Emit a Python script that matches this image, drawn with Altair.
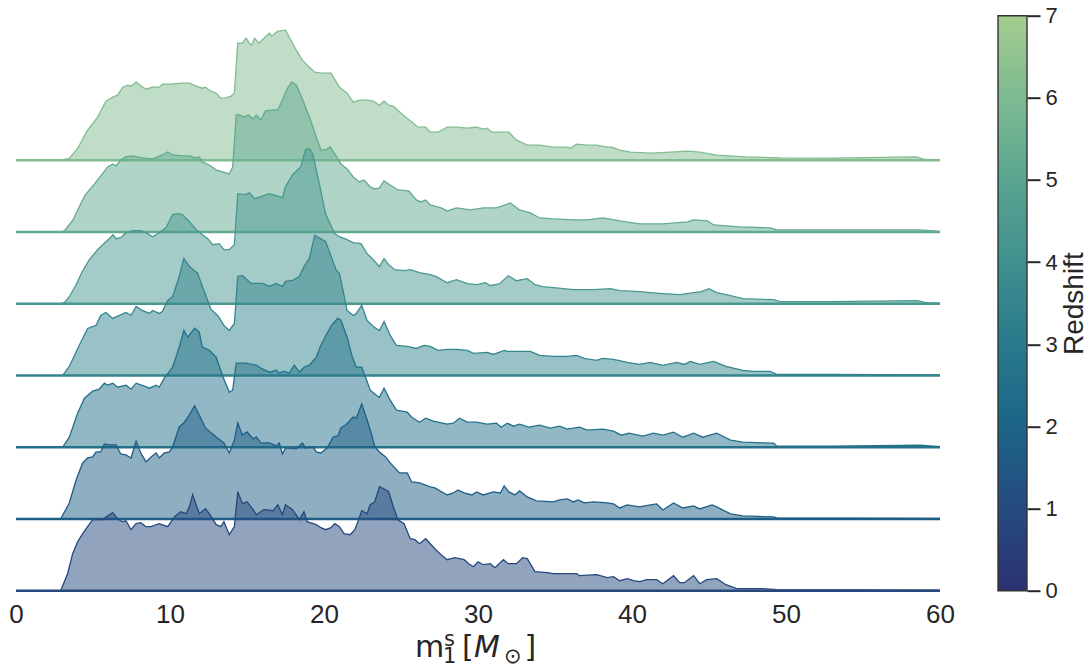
import altair as alt
import pandas as pd

# ---- primary-mass distributions, one per redshift bin (relative density) ----
MASS_R0 = [2.9, 2.92, 3.35, 3.68, 4.0, 4.33, 4.65, 4.98, 5.63, 5.95, 6.28, 6.6, 6.93, 7.14, 7.47, 7.8, 8.1, 8.44, 8.77, 9.3,
           9.85, 10.3, 10.7, 11.04, 11.26, 11.47, 11.9, 12.3, 12.55, 13.0, 13.3, 13.5, 13.85, 14.18, 14.4, 14.7, 15.0, 15.4,
           15.6, 16.1, 16.7, 17.0, 17.3, 17.5, 17.96, 18.4, 18.7, 18.9, 19.5, 19.8, 20.1, 20.45, 20.7, 21.0, 21.3, 21.7, 22.0,
           22.2, 22.45, 22.8, 23.0, 23.3, 23.6, 24.0, 24.2, 24.5, 24.8, 25.2, 25.6, 25.9, 26.2, 26.6, 26.9, 27.2, 27.6, 28.0,
           28.5, 29.1, 29.4, 29.7, 30.0, 30.35, 30.8, 31.1, 31.65, 31.97, 32.5, 32.9, 33.2, 33.7, 34.5, 34.9, 35.8, 36.4, 36.6,
           37.7, 38.4, 38.8, 39.2, 39.7, 40.1, 40.5, 40.95, 41.6, 42.0, 42.7, 43.1, 43.4, 44.0, 44.4, 44.85, 45.5, 46.1, 46.8,
           48.5, 49.4, 60.0]
DENS_R0 = [0, 0.7, 17, 37, 49, 57, 64, 71, 71, 75, 78, 72, 69, 70, 61, 67, 68, 64, 64, 67,
           64, 74, 79, 77, 84, 96, 77, 82, 77, 66, 64, 69, 56, 64, 99, 87, 89, 81,
           76, 81, 80, 86, 76, 86, 81, 71, 79, 69, 66, 63, 61, 63, 67, 64, 57, 56, 61,
           69, 80, 77, 86, 89, 104, 101, 99, 84, 71, 67, 52, 51, 47, 52, 47, 42, 36, 31,
           33, 31, 27, 24, 29, 26, 27, 23, 31, 27, 27, 33, 32, 19, 18, 17, 17, 17, 15,
           16, 13, 14, 10, 12, 10, 9, 11, 11, 7, 15, 8, 8, 15, 7, 11, 12, 6, 2,
           2, 1, 0.5]

MASS_R1 = [2.9, 3.46, 3.9, 4.33, 4.65, 4.98, 5.2, 5.5, 5.74, 6.06, 6.5, 6.8, 7.14, 7.47, 7.8, 8.1, 8.44, 8.77, 9.1, 9.3,
           9.63, 9.96, 10.17, 10.6, 10.9, 11.26, 11.6, 11.9, 12.3, 13.0, 13.5, 13.85, 14.18, 14.4, 14.7, 15.0, 15.4, 15.6,
           15.9, 16.45, 16.9, 17.1, 17.3, 17.5, 18.2, 18.6, 18.8, 19.3, 19.5, 19.8, 20.2, 20.6, 20.9, 21.1, 21.4, 21.6, 21.9,
           22.1, 22.45, 22.8, 23.1, 23.3, 23.6, 24.0, 24.3, 24.9, 25.4, 25.7, 26.2, 26.9, 27.2, 28.0, 28.4, 28.7, 29.1, 29.6,
           29.9, 30.35, 31.0, 31.45, 31.7, 32.0, 32.4, 32.7, 33.2, 33.8, 34.9, 35.3, 35.8, 36.2, 36.5, 36.9, 37.5, 38.4, 38.8,
           39.2, 39.7, 40.5, 41.2, 41.6, 42.0, 42.7, 43.3, 44.0, 44.4, 45.2, 45.5, 46.4, 47.2, 49.2, 49.4, 60.0]
DENS_R1 = [0, 16, 39, 56, 61, 62, 67, 67, 75, 74, 74, 65, 64, 61, 78, 66, 57, 62, 66, 61,
           66, 67, 72, 92, 96, 104, 113, 104, 91, 82, 76, 66, 79, 96, 84, 87, 80, 82,
           76, 76, 73, 76, 65, 71, 70, 76, 71, 72, 67, 66, 71, 82, 83, 91, 94, 97, 102,
           101, 115, 99, 84, 72, 67, 62, 56, 46, 46, 37, 36, 32, 31, 24, 26, 29, 26, 24,
           27, 24, 27, 26, 33, 27, 24, 28, 22, 18, 17, 19, 20, 17, 19, 16, 17, 16, 15,
           11, 14, 12, 14, 15, 9, 16, 11, 13, 10, 14, 12, 5, 3, 2, 1, 0.5]

MASS_R2 = [2.9, 3.03, 3.46, 4.0, 4.44, 4.98, 5.4, 5.74, 5.95, 6.28, 6.6, 7.14, 7.47, 7.8, 8.33, 8.66, 9.1, 9.3, 9.63,
           10.17, 10.6, 10.9, 11.15, 11.6, 11.9, 12.1, 12.55, 13.0, 13.4, 13.85, 14.07, 14.3, 14.9, 15.6, 15.9, 16.45, 16.9,
           17.1, 17.4, 17.75, 18.07, 18.4, 18.7, 19.05, 19.5, 19.74, 20.2, 20.5, 20.9, 21.1, 21.5, 21.8, 22.1, 22.45, 22.7,
           23.0, 23.4, 23.6, 23.9, 24.3, 24.7, 25.4, 25.7, 26.2, 26.6, 27.1, 28.0, 28.4, 28.8, 29.3, 29.9, 30.6, 31.2, 31.5,
           31.9, 32.3, 32.7, 33.3, 34.0, 34.7, 35.3, 35.8, 36.6, 37.1, 38.1, 38.8, 39.3, 39.8, 40.7, 41.4, 42.0, 42.7, 43.3,
           44.0, 44.6, 45.5, 46.4, 47.2, 49.2, 49.4, 52.9, 58.7, 60.0]
DENS_R2 = [0, 0, 10, 34, 49, 56, 58, 64, 62, 64, 60, 62, 58, 64, 61, 59, 62, 60, 69,
           80, 100, 117, 110, 119, 115, 100, 97, 90, 72, 55, 57, 84, 84, 82, 79, 75, 77,
           74, 76, 74, 82, 75, 80, 82, 90, 100, 114, 122, 129, 127, 110, 92, 80, 80, 70,
           57, 52, 50, 59, 47, 37, 35, 30, 25, 29, 26, 23, 24, 29, 25, 25, 23, 24, 20,
           24, 21, 23, 20, 22, 19, 21, 18, 20, 17, 18, 16, 12, 14, 11, 14, 12, 15, 10,
           14, 10, 14, 7, 5, 4, 1, 1, 2, 0.5]

MASS_R3 = [2.9, 3.03, 3.46, 4.1, 4.65, 5.2, 5.5, 5.84, 6.28, 7.14, 7.47, 7.8, 8.2, 8.66, 8.87, 9.3, 9.5, 9.85, 10.17,
           10.6, 10.9, 11.26, 11.8, 12.1, 12.45, 12.66, 13.1, 13.5, 13.85, 14.18, 14.4, 14.7, 15.26, 16.0, 16.45, 16.9, 17.3,
           17.5, 17.96, 18.4, 18.7, 19.05, 19.4, 20.1, 20.8, 21.0, 21.5, 21.9, 22.1, 22.45, 22.8, 23.2, 23.6, 23.9, 24.3,
           24.7, 25.4, 26.0, 26.5, 26.9, 27.4, 28.0, 28.6, 29.3, 29.7, 30.6, 31.0, 31.7, 31.9, 32.7, 33.4, 34.0, 34.9, 35.8,
           36.4, 36.9, 37.7, 38.1, 38.8, 39.7, 40.5, 41.2, 42.0, 42.9, 43.4, 43.8, 44.4, 45.3, 46.1, 47.2, 47.9, 48.97, 49.4,
           52.9, 60.0]
DENS_R3 = [0, 0, 9, 30, 47, 50, 60, 63, 57, 63, 60, 69, 65, 62, 65, 62, 64, 75, 79,
           99, 117, 109, 102, 89, 75, 66, 60, 50, 45, 52, 99, 100, 92, 92, 89, 92, 89,
           94, 95, 99, 109, 117, 140, 134, 105, 102, 65, 60, 62, 70, 55, 49, 45, 54, 40,
           30, 29, 27, 30, 29, 25, 26, 26, 25, 22, 23, 21, 25, 24, 24, 24, 20, 19, 19,
           20, 17, 15, 17, 16, 13, 11, 13, 10, 13, 11, 14, 11, 14, 9, 5, 4, 4, 1,
           1, 0.5]

MASS_R4 = [2.9, 3.14, 3.46, 3.9, 4.3, 4.76, 5.3, 5.7, 6.06, 6.3, 6.5, 6.8, 7.14, 7.6, 8.1, 8.55, 8.87, 9.3, 9.74, 10.17,
           10.5, 10.8, 11.26, 11.7, 12.1, 12.45, 12.77, 13.2, 13.5, 13.85, 14.18, 14.4, 14.9, 15.15, 15.5, 15.9, 16.45, 16.9,
           17.3, 17.5, 17.96, 18.5, 18.8, 19.05, 19.26, 19.7, 20.1, 20.4, 20.7, 21.0, 21.5, 21.9, 22.4, 22.8, 23.2, 23.6,
           23.9, 24.2, 24.6, 25.2, 25.6, 26.2, 26.9, 27.3, 28.0, 28.6, 29.3, 29.9, 30.5, 30.8, 31.4, 31.97, 32.5, 33.2, 33.7,
           34.2, 34.9, 36.2, 37.5, 38.6, 39.2, 40.5, 41.2, 42.0, 43.1, 44.0, 44.5, 45.0, 45.5, 46.4, 47.2, 49.2, 49.6, 52.9,
           58.5, 59.1, 60.0]
DENS_R4 = [0, 1, 7, 19, 32, 44, 54, 60, 65, 69, 65, 66, 71, 73, 73, 70, 67, 71, 76, 89,
           90, 89, 82, 74, 69, 65, 59, 60, 54, 54, 59, 110, 109, 111, 105, 107, 110, 108,
           106, 117, 129, 137, 154, 155, 150, 120, 90, 80, 70, 67, 64, 61, 60, 50, 44, 37,
           45, 39, 34, 33, 34, 31, 29, 27, 21, 24, 20, 19, 21, 18, 20, 28, 23, 25, 19,
           17, 16, 14, 14, 15, 13, 12, 11, 10, 9, 11, 12, 15, 11, 8, 5, 4, 2, 2,
           3, 1, 0.5]

MASS_R5 = [2.9, 3.14, 3.7, 4.1, 4.5, 5.1, 5.6, 5.95, 6.28, 6.5, 6.8, 7.1, 7.6, 8.2, 8.9, 9.5, 9.85, 10.2, 10.8, 11.26,
           11.6, 11.9, 12.1, 12.55, 13.0, 13.4, 13.85, 14.07, 14.3, 14.5, 14.8, 15.1, 15.4, 15.6, 15.9, 16.2, 16.7, 17.0,
           17.3, 17.6, 17.9, 18.2, 18.6, 19.05, 19.5, 19.8, 20.1, 20.4, 20.7, 21.1, 21.5, 21.9, 22.3, 22.6, 23.0, 23.3, 23.6,
           23.9, 24.3, 24.8, 25.5, 26.0, 26.3, 26.6, 26.9, 27.6, 28.0, 28.6, 29.5, 30.35, 31.2, 32.1, 32.7, 33.4, 34.0, 34.9,
           36.2, 37.1, 38.1, 39.2, 40.5, 42.0, 43.6, 44.0, 44.9, 45.3, 47.0, 48.97, 49.4, 52.9, 58.7, 60.0]
DENS_R5 = [0, 1, 12, 25, 37, 48, 58, 65, 68, 66, 72, 75, 76, 74, 73, 77, 80, 77, 76, 76,
           74, 75, 70, 67, 62, 60, 58, 65, 117, 117, 115, 117, 113, 117, 112, 121, 122, 122,
           132, 143, 150, 147, 133, 115, 95, 82, 82, 85, 78, 68, 63, 55, 50, 52, 45, 43, 44,
           51, 47, 42, 41, 32, 30, 32, 27, 24, 21, 24, 22, 24, 24, 29, 22, 19, 14, 13,
           12, 12, 14, 11, 8, 8, 10, 12, 11, 7, 5, 4, 2, 2, 2, 0.5]

MASS_R6 = [2.9, 3.46, 4.0, 4.65, 5.3, 5.84, 6.28, 6.6, 6.93, 7.25, 7.47, 7.8, 8.05, 8.44, 8.87, 9.3, 9.52, 9.96, 10.8,
           11.26, 11.7, 12.1, 12.3, 12.66, 13.0, 13.3, 13.6, 13.96, 14.18, 14.4, 14.7, 14.94, 15.15, 15.3, 15.5, 15.76, 16.1,
           16.45, 16.6, 17.0, 17.5, 17.75, 18.2, 18.6, 19.05, 19.4, 19.9, 20.45, 20.8, 21.0, 21.5, 21.9, 22.3, 22.8, 23.2,
           23.6, 23.9, 24.2, 24.5, 25.0, 25.4, 26.1, 26.6, 26.9, 27.4, 28.0, 28.6, 29.3, 29.9, 30.35, 30.6, 30.9, 32.0, 32.5,
           33.2, 34.0, 34.9, 35.8, 36.0, 36.4, 37.1, 37.7, 38.4, 38.7, 39.2, 39.9, 41.2, 42.5, 43.6, 44.4, 45.5, 47.4, 49.6,
           52.9, 58.5, 59.0, 60.0]
DENS_R6 = [0, 1.7, 11.7, 30, 43, 59, 63, 65, 73, 75, 74, 78, 75, 71, 73, 73, 76, 76, 77,
           77, 74, 72, 73, 69, 67, 62, 62, 64, 67, 117, 117, 122, 117, 115, 122, 117, 122,
           127, 124, 129, 130, 123, 110, 100, 93, 88, 87, 87, 78, 73, 67, 58, 60, 60, 59,
           55, 59, 55, 54, 47, 42, 33, 33, 28, 28, 33, 33, 32, 33, 31, 32, 28, 28, 20,
           15, 15, 13, 13, 12, 16, 15, 15, 13, 13, 10, 8, 7, 8, 9, 8, 5, 3.3, 2.3,
           2, 3.3, 0.7, 0.5]

RIDGES = [(MASS_R0, DENS_R0), (MASS_R1, DENS_R1), (MASS_R2, DENS_R2), (MASS_R3, DENS_R3),
          (MASS_R4, DENS_R4), (MASS_R5, DENS_R5), (MASS_R6, DENS_R6)]

# crest_r palette: one colour per ridge (low redshift at the bottom)
RIDGE_COLORS = ["#26487d", "#1e5e86", "#24728a", "#34858d", "#49988f", "#62aa90", "#82bc91"]
# crest_r colormap stops for the colour bar (redshift 0 .. 7)
CBAR_STOPS = ["#2c3172", "#254b7f", "#1c6488", "#287a8c", "#40908e", "#59a590", "#7dba91", "#a5cd90"]
CBAR_TICKS = [0, 1, 2, 3, 4, 5, 6, 7]
X_TICKS = [0, 10, 20, 30, 40, 50, 60]

STEP = 71.75        # vertical offset between neighbouring ridge baselines (density units)
PLOT_W, PLOT_H = 924, 575
TEXT = "#262626"
SANS = "Liberation Sans, Arial, sans-serif"
MATH = "DejaVu Sans"

rows = []
for i, (mass, dens) in enumerate(RIDGES):
    for m, d in zip(mass, dens):
        rows.append({"ridge": i, "mass": m, "base": i * STEP, "top": i * STEP + d})
df = pd.DataFrame(rows)
base_df = pd.DataFrame({"ridge": list(range(len(RIDGES))),
                        "base": [i * STEP for i in range(len(RIDGES))],
                        "x0": [X_TICKS[0]] * len(RIDGES),
                        "x1": [X_TICKS[-1]] * len(RIDGES)})

x_scale = alt.Scale(domain=[X_TICKS[0], X_TICKS[-1]], nice=False, zero=False)
y_scale = alt.Scale(domain=[0, PLOT_H], nice=False, zero=False)
x_axis = alt.Axis(values=X_TICKS, title=None, ticks=False, domain=False, grid=False,
                  labelFont=SANS, labelFontSize=26, labelColor=TEXT, labelPadding=11,
                  labelFlush=False)

layers = []
# draw the top ridge first so lower ridges sit in front
for i in reversed(range(len(RIDGES))):
    c = RIDGE_COLORS[i]
    src = alt.Chart(df).transform_filter(alt.datum.ridge == i)
    area = src.mark_area(color=c, fillOpacity=0.5, strokeWidth=0).encode(
        x=alt.X("mass:Q", scale=x_scale, axis=x_axis),
        y=alt.Y("top:Q", scale=y_scale, axis=None),
        y2="base:Q",
    )
    outline = src.mark_line(color=c, strokeWidth=1.3).encode(
        x=alt.X("mass:Q", scale=x_scale, axis=x_axis),
        y=alt.Y("top:Q", scale=y_scale, axis=None),
    )
    baseline = alt.Chart(base_df).transform_filter(alt.datum.ridge == i).mark_rule(
        color=c, strokeWidth=2.6).encode(
        x=alt.X("x0:Q", scale=x_scale, axis=x_axis),
        x2="x1:Q",
        y=alt.Y("base:Q", scale=y_scale, axis=None),
    )
    layers += [area, outline, baseline]

ridges = alt.layer(*layers)

# colour bar
gradient = alt.LinearGradient(
    gradient="linear",
    stops=[alt.GradientStop(color=col, offset=k / (len(CBAR_STOPS) - 1)) for k, col in enumerate(CBAR_STOPS)],
    x1=0, x2=0, y1=1, y2=0,
)
cbar_df = pd.DataFrame({"lo": [CBAR_TICKS[0]], "hi": [CBAR_TICKS[-1]]})
cbar = alt.Chart(cbar_df).mark_rect(color=gradient, stroke="#333333", strokeWidth=1.4).encode(
    x=alt.value(982), x2=alt.value(1011),
    y=alt.Y("lo:Q", scale=alt.Scale(domain=[CBAR_TICKS[0], CBAR_TICKS[-1]], nice=False, zero=False),
            axis=alt.Axis(orient="right", offset=87, values=CBAR_TICKS, domain=False, grid=False,
                          tickSize=13, tickWidth=2, tickColor=TEXT,
                          labelFont=SANS, labelFontSize=22, labelColor=TEXT, labelPadding=5,
                          title="Redshift", titleFont=SANS, titleFontSize=28, titleFontWeight="normal",
                          titleColor=TEXT, titleAngle=270, titleBaseline="top", titleAlign="center",
                          titleX=33, titleY=PLOT_H / 2)),
    y2="hi:Q",
)

# x-axis label  m_1^s [M_sun], set as mathtext-style pieces
one = pd.DataFrame({"k": [0]})
label_parts = [
    ("m", 399, 641.5, 30, "normal"),
    ("s", 428, 630.5, 21, "normal"),
    ("1", 427, 647.5, 21, "normal"),
    ("[", 446, 641.5, 30, "normal"),
    ("M", 458, 641.5, 30, "italic"),
    ("\u2299", 488, 647, 21, "normal"),
    ("]", 508.5, 641.5, 30, "normal"),
]
label_layers = [
    alt.Chart(one).mark_text(text=t, font=MATH, fontSize=s, fontStyle=st, color=TEXT,
                             align="left", baseline="alphabetic").encode(x=alt.value(px), y=alt.value(py))
    for t, px, py, s, st in label_parts
]

chart = alt.layer(ridges, cbar, *label_layers).resolve_scale(y="independent").properties(
    width=PLOT_W, height=PLOT_H,
    autosize=alt.AutoSizeParams(type="none"),
    padding={"left": 16, "top": 15.7, "right": 1091 - 16 - PLOT_W, "bottom": 669 - 15.7 - PLOT_H},
    background="white",
).configure_view(stroke=None)

chart.save("out.html", embed_options={"renderer": "svg", "actions": False})
